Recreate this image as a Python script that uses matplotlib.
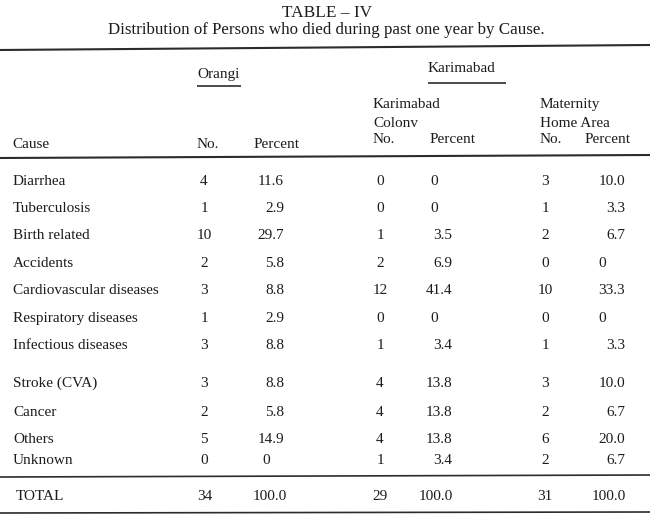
import matplotlib
matplotlib.use("Agg")
import matplotlib.pyplot as plt

# ---- data ----
causes = ["Diarrhea", "Tuberculosis", "Birth related", "Accidents",
          "Cardiovascular diseases", "Respiratory diseases", "Infectious diseases",
          "Stroke (CVA)", "Cancer", "Others", "Unknown"]
orangi_no = [4, 1, 10, 2, 3, 1, 3, 3, 2, 5, 0]
orangi_pct = [11.6, 2.9, 29.7, 5.8, 8.8, 2.9, 8.8, 8.8, 5.8, 14.9, 0]
colony_no = [0, 0, 1, 2, 12, 0, 1, 4, 4, 4, 1]
colony_pct = [0, 0, 3.5, 6.9, 41.4, 0, 3.4, 13.8, 13.8, 13.8, 3.4]
maternity_no = [3, 1, 2, 0, 10, 0, 1, 3, 2, 6, 2]
maternity_pct = [10.0, 3.3, 6.7, 0, 33.3, 0, 3.3, 10.0, 6.7, 20.0, 6.7]
totals_no = [34, 29, 31]
totals_pct = [100.0, 100.0, 100.0]

title_1 = "TABLE \u2013 IV"
title_2 = "Distribution of Persons who died during past one year by Cause."

# ---- layout (pixel coordinates) ----
row_y = [180, 207, 234, 262, 289, 317, 344, 382, 411, 438, 459]
total_y = 495
FS = 11
COL = "#1c1c1c"
LCOL = "#2c2c2c"
FAM = ["Liberation Serif", "DejaVu Serif"]

fig = plt.figure(figsize=(6.5, 5.19), dpi=100)
ax = fig.add_axes([0, 0, 1, 1])
ax.set_xlim(0, 650)
ax.set_ylim(519, 0)
ax.axis("off")


def txt(x, y, s, ha="left", size=FS):
    ax.text(x, y + 5, s, ha=ha, va="baseline", fontsize=size,
            color=COL, family=FAM)


def pct_str(v):
    return "0" if v == 0 else f"{v:.1f}"


# titles
txt(327, 12, title_1, ha="center", size=12.4)
txt(326, 29, title_2, ha="center", size=12.2)

# rules
ax.plot([0, 650], [50, 45], color=LCOL, lw=1.5, solid_capstyle="butt")
ax.plot([0, 650], [158, 155], color=LCOL, lw=1.5, solid_capstyle="butt")
ax.plot([0, 650], [477, 475], color=LCOL, lw=1.2, solid_capstyle="butt")
ax.plot([0, 650], [513, 512], color=LCOL, lw=1.2, solid_capstyle="butt")
ax.plot([197, 241], [86, 86], color=LCOL, lw=1.2, solid_capstyle="butt")
ax.plot([428, 506], [83, 83], color=LCOL, lw=1.2, solid_capstyle="butt")

# header
txt(197, 73, "Orangi")
txt(428, 67, "Karimabad")
txt(373, 103, "Karimabad")
txt(373, 122, "Colonv")
txt(373, 138, "No.")
txt(430, 138, "Percent")
txt(540, 103, "Maternity")
txt(540, 122, "Home Area")
txt(540, 138, "No.")
txt(585, 138, "Percent")
txt(12, 143, "Cause")
txt(197, 143, "No.")
txt(254, 143, "Percent")

# columns: (values, x, kind, zero_x)
cols = [
    (orangi_no, 204, "no", None),
    (orangi_pct, 284, "pct", 266),
    (colony_no, 380, "no", None),
    (colony_pct, 452, "pct", 434),
    (maternity_no, 545, "no", None),
    (maternity_pct, 625, "pct", 602),
]

for i, (cause, y) in enumerate(zip(causes, row_y)):
    txt(13, y, cause)
    for vals, x, kind, zx in cols:
        v = vals[i]
        if kind == "no":
            txt(x, y, str(v), ha="center")
        elif v == 0:
            txt(zx, y, "0", ha="center")
        else:
            txt(x, y, pct_str(v), ha="right")

txt(16, total_y, "TOTAL")
for (n, p, xn, xp) in zip(totals_no, totals_pct, [205, 380, 545], [287, 453, 626]):
    txt(xn, total_y, str(n), ha="center")
    txt(xp, total_y, f"{p:.1f}", ha="right")

fig.savefig("out.png", dpi=100, facecolor="white")
